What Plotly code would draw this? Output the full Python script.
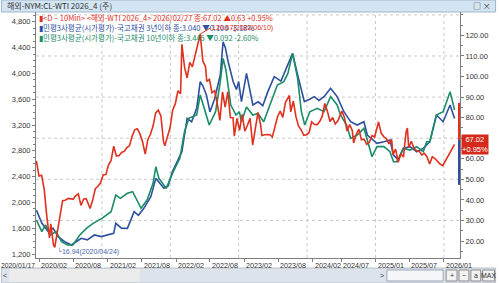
import plotly.graph_objects as go

W, H = 500, 283
ML, MR, MT, MB = 35, 36, 12, 25
PW, PH = W - ML - MR, H - MT - MB


def px(x):
    return (x - ML) / PW


def py(y):
    return (H - MB - y) / PH


# ---------------- data ----------------
wti_dates = [
    "2020-01-17", "2020-01-31", "2020-02-14", "2020-02-28", "2020-03-13", "2020-03-27", "2020-04-03",
    "2020-04-17", "2020-04-24", "2020-05-08", "2020-05-22", "2020-06-05", "2020-06-19", "2020-07-03",
    "2020-07-17", "2020-07-31", "2020-08-14", "2020-08-28", "2020-09-11", "2020-09-25", "2020-10-09",
    "2020-10-30", "2020-11-13", "2020-11-27", "2020-12-11", "2020-12-24", "2021-01-08", "2021-01-22",
    "2021-02-05", "2021-02-19", "2021-03-05", "2021-03-19", "2021-04-02", "2021-04-16", "2021-04-30",
    "2021-05-14", "2021-05-28", "2021-06-11", "2021-06-25", "2021-07-09", "2021-07-23", "2021-08-06",
    "2021-08-20", "2021-09-03", "2021-09-17", "2021-10-01", "2021-10-15", "2021-10-29", "2021-11-12",
    "2021-11-26", "2021-12-03", "2021-12-17", "2021-12-31", "2022-01-14", "2022-01-28", "2022-02-11",
    "2022-02-25", "2022-03-04", "2022-03-18", "2022-04-01", "2022-04-15", "2022-04-29", "2022-05-13",
    "2022-05-27", "2022-06-10", "2022-06-24", "2022-07-08", "2022-07-15", "2022-07-29", "2022-08-12",
    "2022-08-26", "2022-09-09", "2022-09-23", "2022-10-07", "2022-10-21", "2022-11-04", "2022-11-18",
    "2022-12-02", "2022-12-09", "2022-12-23", "2023-01-06", "2023-01-20", "2023-02-03", "2023-02-17",
    "2023-03-03", "2023-03-17", "2023-03-31", "2023-04-14", "2023-04-28", "2023-05-05", "2023-05-19",
    "2023-06-02", "2023-06-16", "2023-06-30", "2023-07-14", "2023-07-28", "2023-08-11", "2023-08-25",
    "2023-09-08", "2023-09-22", "2023-09-29", "2023-10-06", "2023-10-20", "2023-11-03", "2023-11-17",
    "2023-12-01", "2023-12-15", "2023-12-29", "2024-01-12", "2024-01-26", "2024-02-09", "2024-02-23",
    "2024-03-08", "2024-03-22", "2024-04-05", "2024-04-19", "2024-05-03", "2024-05-17", "2024-05-31",
    "2024-06-14", "2024-06-28", "2024-07-05", "2024-07-19", "2024-08-02", "2024-08-16", "2024-08-30",
    "2024-09-06", "2024-09-20", "2024-10-04", "2024-10-18", "2024-11-01", "2024-11-15", "2024-11-29",
    "2024-12-13", "2024-12-27", "2025-01-10", "2025-01-17", "2025-01-31", "2025-02-14", "2025-02-28",
    "2025-03-14", "2025-03-28", "2025-04-04", "2025-04-18", "2025-05-02", "2025-05-16", "2025-05-30",
    "2025-06-13", "2025-06-20", "2025-06-27", "2025-07-11", "2025-07-25", "2025-08-08", "2025-08-22",
    "2025-09-05", "2025-09-19", "2025-10-03", "2025-10-17", "2025-10-31", "2025-11-14", "2025-11-28",
    "2025-12-12", "2025-12-26", "2026-01-09", "2026-01-23", "2026-02-06", "2026-02-20", "2026-02-27",
]
wti_close = [
    59.0, 51.6, 52.0, 45.0, 31.7, 21.5, 28.3,
    18.3, 16.94, 24.7, 33.3, 39.6, 39.8, 40.6,
    40.6, 40.3, 42.0, 42.9, 37.3, 40.3, 40.6,
    35.8, 40.1, 45.5, 46.6, 48.2, 52.2, 52.3,
    56.9, 59.2, 66.1, 61.4, 61.5, 63.1, 63.6,
    65.4, 66.3, 70.9, 74.1, 74.6, 72.1, 68.3,
    62.3, 69.3, 71.9, 75.9, 82.3, 83.6, 80.8,
    68.2, 66.3, 70.9, 75.2, 83.8, 86.8, 93.1,
    91.6, 115.7, 104.7, 99.3, 106.9, 104.7, 110.5,
    115.1, 120.67, 107.6, 104.8, 97.6, 98.6, 92.1,
    93.1, 86.8, 78.7, 92.6, 85.1, 92.6, 80.1,
    80.0, 71.0, 79.6, 73.8, 81.6, 73.4, 76.3,
    79.7, 66.7, 75.7, 82.5, 76.8, 71.3, 71.7,
    71.7, 71.8, 70.6, 75.4, 80.6, 83.2, 80.1,
    87.5, 90.0, 90.8, 82.8, 88.1, 80.5, 75.9,
    74.1, 71.4, 71.7, 72.7, 78.0, 76.8, 76.5,
    78.0, 80.6, 86.9, 83.1, 78.1, 80.1, 76.9,
    78.5, 81.5, 83.2, 80.1, 73.5, 76.7, 73.6,
    67.7, 71.9, 74.4, 69.2, 69.5, 67.0, 68.0,
    71.3, 70.6, 76.6, 77.9, 72.5, 70.7, 69.8,
    67.2, 69.4, 62.0, 64.7, 58.3, 62.5, 60.8,
    73.0, 75.0, 65.5, 68.5, 65.2, 63.9, 63.7,
    61.9, 62.7, 60.9, 57.5, 61.0, 60.1, 58.6,
    57.4, 56.7, 59.1, 61.0, 63.5, 66.4, 67.02,
]

kb3_dates = [
    "2020-01-17", "2020-02-15", "2020-03-20", "2020-04-15", "2020-05-12", "2020-06-16", "2020-07-22",
    "2020-08-20", "2020-09-13", "2020-10-15", "2020-11-22", "2020-12-28", "2021-02-01", "2021-03-05",
    "2021-03-16", "2021-04-15", "2021-05-17", "2021-06-22", "2021-07-15", "2021-08-13", "2021-09-19",
    "2021-10-16", "2021-11-05", "2021-11-28", "2021-12-20", "2022-01-12", "2022-02-07", "2022-03-04",
    "2022-04-01", "2022-04-25", "2022-05-22", "2022-06-10", "2022-06-25", "2022-07-13", "2022-08-01",
    "2022-08-25", "2022-09-25", "2022-10-10", "2022-10-22", "2022-11-06", "2022-12-03", "2022-12-20",
    "2023-01-01", "2023-01-16", "2023-02-12", "2023-03-18", "2023-04-15", "2023-05-10", "2023-06-06",
    "2023-07-10", "2023-08-15", "2023-09-21", "2023-10-16", "2023-11-12", "2023-12-18", "2024-01-15",
    "2024-02-09", "2024-03-05", "2024-04-01", "2024-05-06", "2024-06-10", "2024-07-16", "2024-08-21",
    "2024-09-25", "2024-10-31", "2024-11-18", "2024-12-15", "2025-01-09", "2025-02-15", "2025-03-19",
    "2025-04-07", "2025-05-03", "2025-05-29", "2025-07-04", "2025-08-09", "2025-09-13", "2025-10-18",
    "2025-11-22", "2025-12-28", "2026-02-03", "2026-02-27",
]
kb3_vals = [
    1882, 1680, 1546, 1600, 1468, 1390, 1340,
    1390, 1443, 1420, 1495, 1470, 1495, 1520,
    1675, 1600, 1598, 1856, 1800, 1908, 2088,
    2373, 2300, 2218, 2250, 2476, 2631, 2786,
    3303, 3250, 3458, 3871, 3800, 3665, 3406,
    3600, 3975, 4491, 4400, 4181, 3871, 3750,
    3871, 3562, 4000, 3510, 3560, 3500, 3717,
    3950, 3880, 4130, 4311, 3975, 3562, 3600,
    3640, 3580, 3640, 3769, 3640, 3406, 3251,
    3200, 3251, 3045, 2980, 2916, 2941, 2967,
    2735, 2657, 2838, 2864, 2786, 2838, 2941,
    3355, 3251, 3510, 3300,
]

kb10_dates = [
    "2020-01-17", "2020-02-15", "2020-03-06", "2020-04-01", "2020-05-01", "2020-05-30", "2020-07-01",
    "2020-07-30", "2020-09-05", "2020-10-10", "2020-11-15", "2021-01-01", "2021-02-19", "2021-03-16",
    "2021-04-10", "2021-05-17", "2021-06-14", "2021-07-10", "2021-07-29", "2021-08-30", "2021-10-01",
    "2021-10-16", "2021-11-01", "2021-12-10", "2022-01-17", "2022-02-21", "2022-03-18", "2022-04-10",
    "2022-05-22", "2022-06-10", "2022-06-25", "2022-07-28", "2022-08-31", "2022-09-25", "2022-10-10",
    "2022-10-25", "2022-11-20", "2022-12-18", "2023-01-05", "2023-01-16", "2023-02-12", "2023-03-18",
    "2023-04-14", "2023-05-15", "2023-06-17", "2023-07-27", "2023-08-30", "2023-09-21", "2023-10-16",
    "2023-11-12", "2023-12-02", "2023-12-20", "2024-01-16", "2024-02-25", "2024-04-01", "2024-05-06",
    "2024-06-10", "2024-06-28", "2024-07-30", "2024-08-21", "2024-09-25", "2024-10-31", "2024-11-18",
    "2024-12-13", "2025-01-09", "2025-02-15", "2025-03-19", "2025-04-07", "2025-04-25", "2025-05-29",
    "2025-07-04", "2025-08-09", "2025-09-13", "2025-10-01", "2025-10-18", "2025-11-22", "2025-12-28",
    "2026-02-03", "2026-02-27",
]
kb10_vals = [
    1727, 1546, 1650, 1495, 1546, 1390, 1340,
    1340, 1495, 1598, 1675, 1753, 1856, 2115,
    2063, 2141, 2166, 2011, 1908, 2037, 2296,
    2554, 2373, 2218, 2476, 2683, 3096, 3303,
    3355, 3665, 3510, 3200, 3406, 3871, 4233,
    4053, 3510, 3355, 3406, 3251, 3480, 3355,
    3380, 3251, 3510, 3820, 3871, 4000, 4311,
    3923, 3406, 3200, 3406, 3458, 3406, 3640,
    3510, 3355, 3200, 2993, 3045, 3148, 2967,
    2709, 2864, 2864, 2786, 2631, 2631, 2838,
    2812, 2864, 2786, 2941, 2941, 3355, 3406,
    3717, 3433,
]

x_tick_dates = ["2020-02-01", "2020-08-01", "2021-02-01", "2021-08-01", "2022-02-01", "2022-08-01",
                "2023-02-01", "2023-08-01", "2024-02-01", "2024-07-01", "2025-01-01", "2025-07-01",
                "2026-01-01"]
x_tick_labels = ["2020/02", "2020/08", "2021/02", "2021/08", "2022/02", "2022/08", "2023/02",
                 "2023/08", "2024/02", "2024/07", "2025/01", "2025/07", "2026/01"]
year_grid = ["2021-01-01", "2022-01-01", "2023-01-01", "2024-01-01", "2025-01-01", "2026-01-01"]
wti_grid = [30, 50, 70, 90, 110, 130]
left_ticks = [1200, 1600, 2000, 2400, 2800, 3200, 3600, 4000, 4400, 4800]
right_ticks = [20, 30, 40, 50, 60, 70, 80, 90, 100, 110, 120]
wti_band = [87.2, 69.1, 47.3]  # price-marker bars at the right axis

legend_lines = [
    "▮<D − 10Min> <해외-WTI 2026_4> 2026/02/27 종:67.02 ▲0.63 +0.95%",
    "▮민평3사평균(시가평가)-국고채권 3년이하 종:3.040 ▼0.100 -3.18%",
    "▮민평3사평균(시가평가)-국고채권 10년이하 종:3.445 ▼0.092 -2.60%",
]

RED = "#e0301e"
BLUE = "#2e4f9e"
GREEN = "#1a8c68"
AXC = "#7f7f7f"
FONT = "Liberation Sans, Arial, sans-serif"
KFONT = "Noto Sans CJK KR, sans-serif"

fig = go.Figure()
fig.add_trace(go.Scatter(x=wti_dates, y=wti_close, yaxis="y2", mode="lines",
                         line=dict(color=RED, width=1.6), name="WTI"))
fig.add_trace(go.Scatter(x=kb3_dates, y=kb3_vals, yaxis="y", mode="lines",
                         line=dict(color=BLUE, width=1.6), name="3년"))
fig.add_trace(go.Scatter(x=kb10_dates, y=kb10_vals, yaxis="y", mode="lines",
                         line=dict(color=GREEN, width=1.6), name="10년"))

shapes = []
for d in year_grid:
    shapes.append(dict(type="line", xref="x", yref="paper", x0=d, x1=d, y0=0, y1=1,
                       line=dict(color="#c8c8c8", width=1, dash="dot"), layer="below"))
for v in wti_grid:
    shapes.append(dict(type="line", xref="paper", yref="y2", x0=0, x1=1, y0=v, y1=v,
                       line=dict(color="#c8c8c8", width=1, dash="dot"), layer="below"))
# price marker bars near the right axis
shapes.append(dict(type="line", xref="paper", yref="y2", x0=px(463), x1=px(463),
                   y0=wti_band[0], y1=wti_band[1], line=dict(color=RED, width=2)))
shapes.append(dict(type="line", xref="paper", yref="y2", x0=px(463), x1=px(463),
                   y0=wti_band[1], y1=wti_band[2], line=dict(color=BLUE, width=2)))
# title bar
shapes.append(dict(type="rect", xref="paper", yref="paper", x0=px(0), x1=px(W), y0=py(12), y1=py(0),
                   fillcolor="#d3e4f2", line=dict(color="#9fb6cc", width=1), layer="below"))
# bottom scroll bar
shapes.append(dict(type="rect", xref="paper", yref="paper", x0=px(0), x1=px(W), y0=py(283), y1=py(268),
                   fillcolor="#dde3ea", line=dict(color="#b8c0c8", width=1), layer="below"))
shapes.append(dict(type="rect", xref="paper", yref="paper", x0=px(8), x1=px(140), y0=py(282), y1=py(269),
                   fillcolor="#ececec", line=dict(width=0), layer="below"))
shapes.append(dict(type="rect", xref="paper", yref="paper", x0=px(390), x1=px(447), y0=py(281), y1=py(270),
                   fillcolor="#f4f6fa", line=dict(color="#9aa6b8", width=1), layer="below"))
for x0, x1 in [(450, 461), (463, 473), (475, 485), (487, 499)]:
    shapes.append(dict(type="rect", xref="paper", yref="paper", x0=px(x0), x1=px(x1), y0=py(281),
                       y1=py(270), fillcolor="#f2f2f2", line=dict(color="#8a8a8a", width=1)))

ann = []
ann.append(dict(text="해외-NYM:CL-WTI 2026_4 (주)", xref="paper", yref="paper", x=px(4), y=py(6),
                xanchor="left", yanchor="middle", showarrow=False,
                font=dict(family=KFONT, size=8, color="#333333")))
ann.append(dict(text="□ ×", xref="paper", yref="paper", x=px(497), y=py(6), xanchor="right",
                yanchor="middle", showarrow=False, font=dict(family=KFONT, size=8, color="#333333")))
for i, (t, c) in enumerate(zip(legend_lines, [RED, BLUE, GREEN])):
    ann.append(dict(text=t, xref="paper", yref="paper", x=px(36), y=py(17 + 10 * i), xanchor="left",
                    yanchor="middle", showarrow=False, font=dict(family=KFONT, size=7.5, color=c)))
# x tick labels
ann.append(dict(text="2020/01/17", xref="paper", yref="paper", x=px(36), y=py(265), xanchor="right",
                yanchor="middle", showarrow=False, font=dict(family=FONT, size=6.8, color="#333333")))
for d, t in zip(x_tick_dates, x_tick_labels):
    ann.append(dict(text=t, xref="x", yref="paper", x=d, y=py(265), xanchor="left", xshift=0,
                    yanchor="middle", showarrow=False, font=dict(family=FONT, size=7.2, color="#333333")))
# extremes
i_max = wti_close.index(max(wti_close))
i_min = wti_close.index(min(wti_close))
ann.append(dict(text=f"{wti_close[i_max]:.2f}({wti_dates[i_max].replace('-', '/')})", x=wti_dates[i_max],
                y=wti_close[i_max], xref="x", yref="y2", xanchor="left", yanchor="middle",
                showarrow=True, arrowhead=0, arrowwidth=1, arrowcolor=RED, ax=10, ay=-6,
                font=dict(family=FONT, size=7, color=RED)))
ann.append(dict(text=f"└{wti_close[i_min]:.2f}({wti_dates[i_min].replace('-', '/')})", x=wti_dates[i_min],
                y=wti_close[i_min], xref="x", yref="y2", xanchor="left", yanchor="top", yshift=2,
                showarrow=False, font=dict(family=FONT, size=7, color="#4a66a8")))
# last price box
ann.append(dict(text=f"{wti_close[-1]:.2f}<br>+0.95%", xref="paper", yref="y2", x=px(465),
                y=wti_close[-1], xanchor="left", yanchor="middle", showarrow=False, bgcolor="#d42a1c",
                borderpad=0, font=dict(family=FONT, size=7.5, color="white")))
# scroll bar glyphs
for t, x in [("<", 4), (">", 385), ("+", 455.5), ("−", 468), ("a", 480), ("MAX", 493)]:
    ann.append(dict(text=t, xref="paper", yref="paper", x=px(x), y=py(275.5), xanchor="center",
                    yanchor="middle", showarrow=False, font=dict(family=FONT, size=7, color="#333333")))

fig.update_layout(
    width=W, height=H, margin=dict(l=ML, r=MR, t=MT, b=MB),
    paper_bgcolor="white", plot_bgcolor="white", showlegend=False,
    shapes=shapes, annotations=ann,
    xaxis=dict(type="date", range=["2020-01-15", "2026-03-28"], showgrid=False, zeroline=False,
               tickvals=x_tick_dates, showticklabels=False, ticks="outside", ticklen=3,
               tickcolor=AXC, showline=True, linecolor=AXC, linewidth=1),
    yaxis=dict(range=[1138, 4952], tickvals=left_ticks, tickformat=",d", showgrid=False, zeroline=False,
               ticks="outside", ticklen=3, tickcolor=AXC, showline=True, linecolor=AXC,
               tickfont=dict(family=FONT, size=7.5, color="#333333"),
               minor=dict(dtick=100, ticks="outside", ticklen=2, tickcolor=AXC)),
    yaxis2=dict(range=[11.73, 131.4], overlaying="y", side="right", tickvals=right_ticks,
                tickformat=".2f", showgrid=False, zeroline=False, ticks="outside", ticklen=3,
                tickcolor=AXC, showline=True, linecolor=AXC,
                tickfont=dict(family=FONT, size=7.5, color="#333333"),
                minor=dict(dtick=5, ticks="outside", ticklen=2, tickcolor=AXC)),
)

fig.write_html("out.html")
